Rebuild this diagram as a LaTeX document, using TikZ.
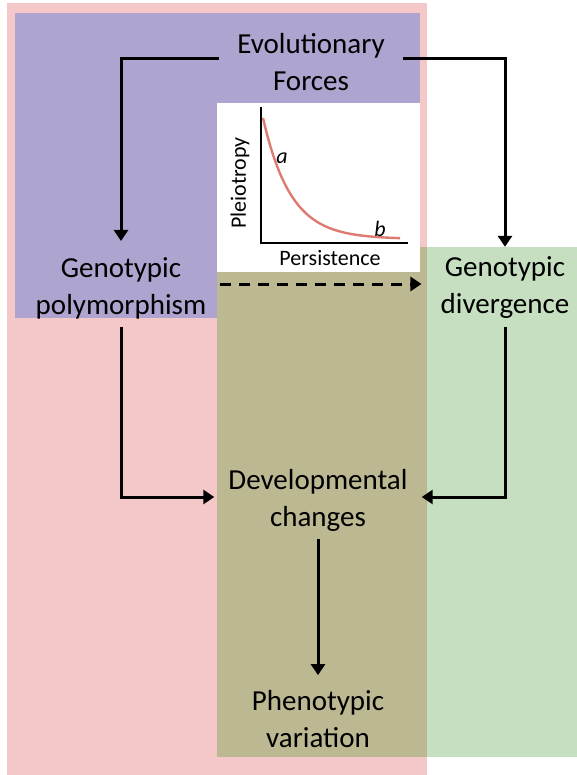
\documentclass[tikz,border=0pt]{standalone}
\usepackage{fontspec}
\setmainfont{Carlito}
\usepackage{tikz}
\usetikzlibrary{positioning,arrows.meta,calc}
\definecolor{blush}{HTML}{F4C8C8}
\definecolor{lilac}{HTML}{AFA3CF}
\definecolor{mixbg}{HTML}{BCB892}
\definecolor{mint}{HTML}{C5DFC0}
\definecolor{decay}{HTML}{DE7A70}
\tikzset{
  lab/.style ={align=center, font=\fontsize{29}{37}\selectfont, inner sep=8pt},
  edge/.style={-{Triangle[length=11pt,width=14pt]}, line width=3pt},
  dedge/.style={edge, dash pattern=on 11pt off 8pt},
  axis/.style={line width=2.6pt},
  tick/.style={font=\fontsize{22}{26}\selectfont, inner sep=1pt},
}

\begin{document}
\begin{tikzpicture}[x=1pt,y=-1pt]
        \useasboundingbox (0,0) rectangle (577,775);
        \fill[white] (0,0) rectangle (577,775);
        \fill[blush] (7,3) rectangle (427,775);
        \fill[lilac] (15,13) rectangle (420,318);
        \fill[mint]  (427,247) rectangle (577,757);
        \fill[mixbg] (217,247) rectangle (427,757);
        \fill[white] (217,103) rectangle (420,272);
        % inset plot
        \draw[axis] (261,107) -- (261,243) -- (408,243);
        \draw[decay, line width=2.4pt] plot[domain=263:400, samples=60] (\x, {239-121*exp(-(\x-263)/27.7)});
        \node[tick, rotate=90] (pl) at (240,183) {Pleiotropy};
        \node[tick]  (pe) at (330,258) {Persistence};
        \node[tick]  (ca) at (282,158) {\itshape a};
        \node[tick]  (cb) at (380,229) {\itshape b};
        % main labels
        \node[lab, inner xsep=18pt] (evo) at (311,62)  {Evolutionary\\Forces};
        \node[lab]   (poly) at (121,288) {Genotypic\\polymorphism};
        \node[lab]   (div)  at (505,288) {Genotypic\\divergence};
        \node[lab, inner xsep=14pt] (dev) at (318,500) {Developmental\\changes};
        \node[lab]   (phen) at (318,719) {Phenotypic\\variation};
        \draw[edge] ([yshift=3.5pt]evo.west) -| ([yshift=8pt]poly.north);
        \draw[edge] ([yshift=3.5pt]evo.east) -| ([yshift=2pt]div.north);
        \draw[dedge] ([xshift=6pt,yshift=4pt]poly.east) -- ([xshift=-11pt,yshift=4pt]div.west);
        \draw[edge] (poly.south) |- ([yshift=3pt]dev.west);
        \draw[edge] (div.south) |- ([yshift=3pt]dev.east);
        \draw[edge] (dev.south) -- ([yshift=7pt]phen.north);
      \end{tikzpicture}
\end{document}
